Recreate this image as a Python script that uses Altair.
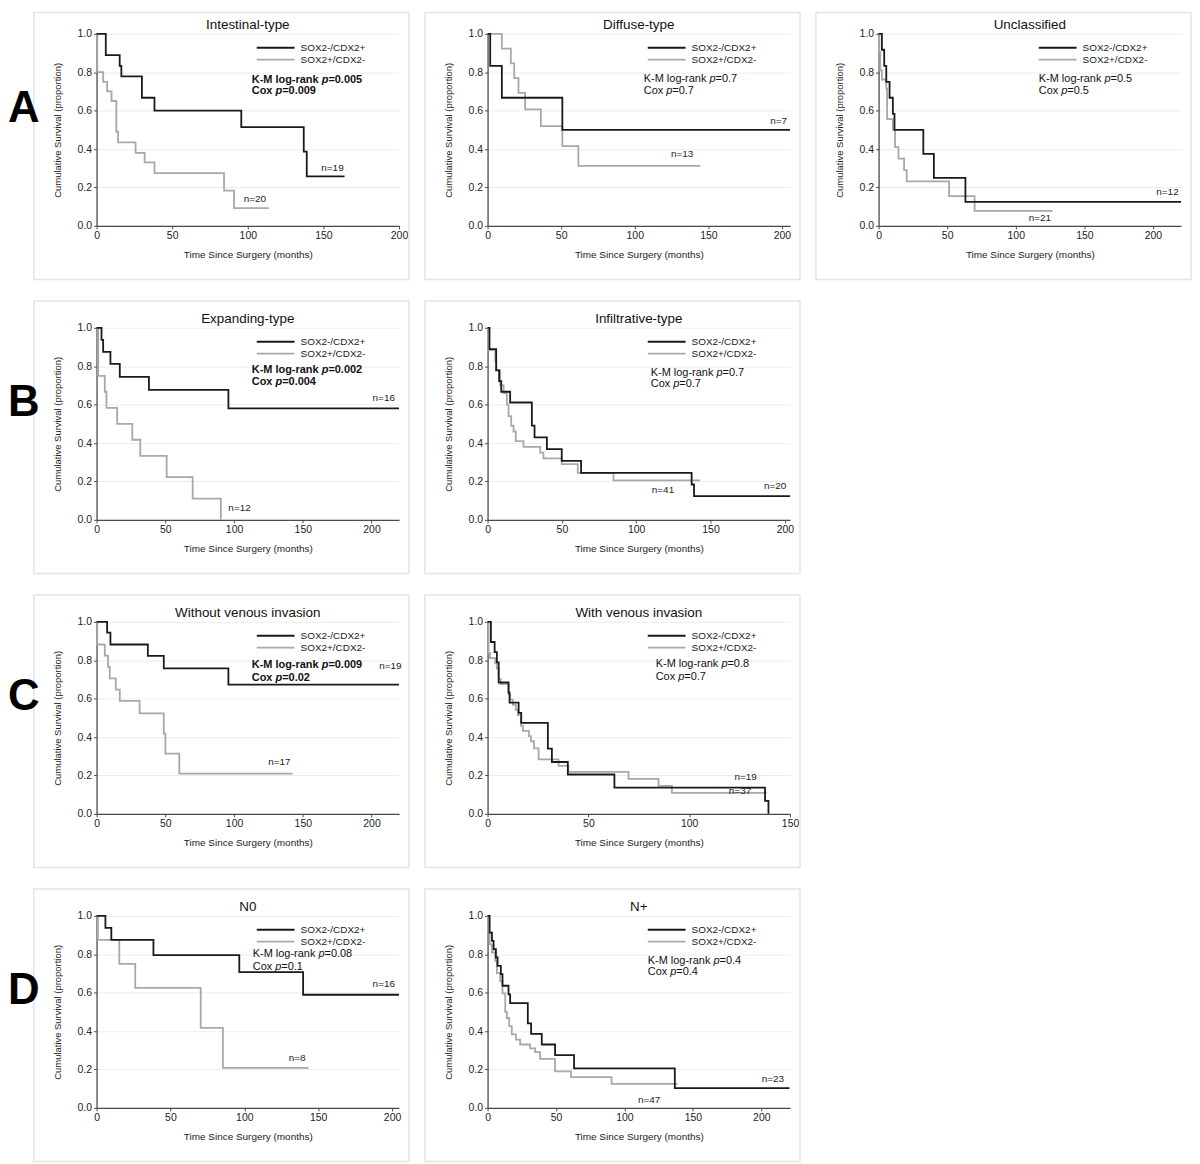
import altair as alt
import pandas as pd

# ---------------- data ----------------
# black = SOX2-/CDX2+, gray = SOX2+/CDX2-
INT_POS_T = [0, 6.1, 15.3, 16.4, 30.0, 38.3, 95.7, 137.0, 139.0, 164.0]
INT_POS_S = [1.0, 0.889, 0.833, 0.778, 0.667, 0.600, 0.514, 0.386, 0.257, 0.257]
INT_NEG_T = [0, 0.5, 4.4, 7.0, 9.9, 13.1, 14.2, 25.8, 31.8, 38.3, 84.3, 90.9, 113.9]
INT_NEG_S = [1.0, 0.80, 0.75, 0.70, 0.65, 0.49, 0.435, 0.38, 0.33, 0.275, 0.183, 0.092, 0.092]

DIF_POS_T = [0, 1.8, 9.7, 50.8, 205.5]
DIF_POS_S = [1.0, 0.833, 0.667, 0.50, 0.50]
DIF_NEG_T = [0, 9.7, 15.8, 18.1, 21.0, 25.5, 36.2, 50.8, 61.7, 144.6]
DIF_NEG_S = [1.0, 0.923, 0.846, 0.769, 0.692, 0.606, 0.519, 0.415, 0.312, 0.312]

UNC_POS_T = [0, 2.4, 4.1, 5.6, 8.0, 10.4, 11.6, 32.6, 40.3, 63.3, 220.5]
UNC_POS_S = [1.0, 0.917, 0.833, 0.75, 0.667, 0.583, 0.50, 0.375, 0.25, 0.125, 0.125]
UNC_NEG_T = [0, 0.5, 1.2, 2.4, 5.6, 6.2, 10.4, 12.0, 14.5, 18.6, 20.5, 51.4, 70.0, 126.8]
UNC_NEG_S = [1.0, 0.905, 0.81, 0.762, 0.714, 0.556, 0.50, 0.41, 0.35, 0.29, 0.232, 0.155, 0.078, 0.078]

EXP_POS_T = [0, 3.6, 4.8, 10.1, 16.9, 38.1, 95.9, 220.0]
EXP_POS_S = [1.0, 0.9375, 0.875, 0.8125, 0.745, 0.677, 0.581, 0.581]
EXP_NEG_T = [0, 1.2, 6.0, 7.2, 15.0, 26.0, 31.8, 51.0, 69.9, 90.4]
EXP_NEG_S = [1.0, 0.75, 0.667, 0.583, 0.50, 0.417, 0.333, 0.222, 0.111, 0.0]

INF_POS_T = [0, 1.3, 5.8, 7.8, 9.2, 15.2, 29.8, 31.6, 39.9, 49.9, 62.9, 137.3, 138.9, 203.5]
INF_POS_S = [1.0, 0.889, 0.778, 0.722, 0.667, 0.611, 0.491, 0.429, 0.368, 0.307, 0.245, 0.184, 0.123, 0.123]
INF_NEG_T = [0, 0.5, 5.2, 5.8, 8.5, 10.8, 13.0, 14.1, 15.9, 17.5, 19.0, 24.2, 35.4, 37.6, 49.9, 60.7, 84.7, 142.9]
INF_NEG_S = [1.0, 0.884, 0.827, 0.78, 0.70, 0.66, 0.60, 0.54, 0.49, 0.46, 0.41, 0.38, 0.35, 0.32, 0.29, 0.245, 0.205, 0.205]

WOV_POS_T = [0, 7.7, 10.1, 37.3, 48.9, 95.9, 220.0]
WOV_POS_S = [1.0, 0.944, 0.882, 0.823, 0.758, 0.673, 0.673]
WOV_NEG_T = [0, 0.5, 6.0, 8.4, 9.6, 14.0, 16.9, 31.3, 48.9, 50.1, 60.2, 142.7]
WOV_NEG_S = [1.0, 0.882, 0.824, 0.765, 0.706, 0.647, 0.588, 0.523, 0.418, 0.314, 0.209, 0.209]

WV_POS_T = [0, 1.65, 3.5, 4.6, 5.5, 10.4, 10.9, 15.4, 16.7, 29.9, 31.9, 39.8, 62.9, 137.6, 139.3]
WV_POS_S = [1.0, 0.895, 0.842, 0.789, 0.684, 0.632, 0.579, 0.526, 0.474, 0.34, 0.27, 0.205, 0.137, 0.068, 0.0]
WV_NEG_T = [0, 0.5, 1.2, 3.8, 4.6, 5.5, 6.5, 10.4, 11.2, 12.5, 14.0, 15.0, 16.5, 17.5, 20.5, 21.5,
            23.0, 25.3, 35.2, 40.1, 69.9, 84.8, 91.4, 138.4]
WV_NEG_S = [1.0, 0.838, 0.811, 0.784, 0.757, 0.703, 0.676, 0.622, 0.595, 0.568, 0.541, 0.514, 0.459, 0.432,
            0.405, 0.378, 0.341, 0.284, 0.25, 0.219, 0.182, 0.146, 0.109, 0.109]

N0_POS_T = [0, 6.0, 10.0, 38.5, 96.6, 139.8, 204.7]
N0_POS_S = [1.0, 0.9375, 0.875, 0.795, 0.707, 0.589, 0.589]
N0_NEG_T = [0, 0.9, 15.4, 26.2, 70.5, 85.5, 143.6]
N0_NEG_S = [1.0, 0.875, 0.75, 0.625, 0.417, 0.208, 0.208]

NP_POS_T = [0, 1.5, 3.2, 4.4, 6.1, 7.3, 9.7, 10.9, 15.3, 16.5, 29.4, 31.8, 39.6, 49.3, 63.2, 136.8, 220.6]
NP_POS_S = [1.0, 0.913, 0.870, 0.826, 0.783, 0.739, 0.696, 0.636, 0.591, 0.545, 0.44, 0.385, 0.33, 0.275,
            0.206, 0.103, 0.103]
NP_NEG_T = [0, 0.3, 1.5, 3.2, 5.6, 6.8, 9.2, 10.9, 12.9, 14.1, 15.8, 17.7, 20.7, 23.8, 31.1, 34.8, 38.4,
            49.3, 61.0, 90.6, 138.8]
NP_NEG_S = [1.0, 0.915, 0.851, 0.809, 0.766, 0.702, 0.66, 0.596, 0.50, 0.468, 0.426, 0.383, 0.355, 0.33,
            0.31, 0.29, 0.255, 0.19, 0.16, 0.125, 0.125]

TITLES = ["Intestinal-type", "Diffuse-type", "Unclassified", "Expanding-type", "Infiltrative-type",
          "Without venous invasion", "With venous invasion", "N0", "N+"]
X_MAX = [200, 205.5, 220.5, 220, 203.5, 220, 150, 204.7, 221]
KM_P = ["0.005", "0.7", "0.5", "0.002", "0.7", "0.009", "0.8", "0.08", "0.4"]
COX_P = ["0.009", "0.7", "0.5", "0.004", "0.7", "0.02", "0.7", "0.1", "0.4"]
SIGNIFICANT = [True, False, False, True, False, True, False, False, False]
N_POS = ["n=19", "n=7", "n=12", "n=16", "n=20", "n=19", "n=19", "n=16", "n=23"]
N_NEG = ["n=20", "n=13", "n=21", "n=12", "n=41", "n=17", "n=37", "n=8", "n=47"]
ROW_LETTERS = ["A", "B", "C", "D"]
LEGEND_LABELS = ["SOX2-/CDX2+", "SOX2+/CDX2-"]

# annotation placement (data coordinates for the n= labels, pixel offsets for the stats block)
N_POS_AT = [(156, 0.303), (197.7, 0.547), (210.6, 0.178), (208.9, 0.637), (193.5, 0.178),
            (213.7, 0.768), (128, 0.194), (194.4, 0.645), (208.5, 0.15)]
N_NEG_AT = [(104.7, 0.14), (132.2, 0.374), (117.6, 0.04), (104, 0.06), (118, 0.157),
            (133, 0.27), (125.2, 0.12), (135.8, 0.26), (118, 0.04)]
STATS_AT = [(156, 46, 57), (157, 45, 57), (161, 45, 57), (156, 42, 54), (164, 45, 56),
            (156, 43, 56), (169, 42, 55), (157, 38, 51), (161, 45, 56)]

CURVES = [
    (INT_POS_T, INT_POS_S, INT_NEG_T, INT_NEG_S),
    (DIF_POS_T, DIF_POS_S, DIF_NEG_T, DIF_NEG_S),
    (UNC_POS_T, UNC_POS_S, UNC_NEG_T, UNC_NEG_S),
    (EXP_POS_T, EXP_POS_S, EXP_NEG_T, EXP_NEG_S),
    (INF_POS_T, INF_POS_S, INF_NEG_T, INF_NEG_S),
    (WOV_POS_T, WOV_POS_S, WOV_NEG_T, WOV_NEG_S),
    (WV_POS_T, WV_POS_S, WV_NEG_T, WV_NEG_S),
    (N0_POS_T, N0_POS_S, N0_NEG_T, N0_NEG_S),
    (NP_POS_T, NP_POS_S, NP_NEG_T, NP_NEG_S),
]

# ---------------- styling ----------------
FONT = "Liberation Sans"
W, H = 304, 193
BLACK = "#1a1a1a"
GRAY = "#a8a8a8"
TXT = "#222222"
AXC = "#4a4a4a"

REG_W = {'K': .667, '-': .333, 'M': .833, ' ': .278, 'l': .222, 'o': .556, 'g': .556, 'r': .333,
         'a': .556, 'n': .556, 'k': .5, 'C': .722, 'x': .5, 'p': .556}
BOLD_W = {'K': .722, '-': .333, 'M': .833, ' ': .278, 'l': .278, 'o': .611, 'g': .611, 'r': .389,
          'a': .556, 'n': .611, 'k': .556, 'C': .722, 'x': .556, 'p': .611}


def text_w(s, size, bold):
    tab = BOLD_W if bold else REG_W
    return sum(tab.get(c, .556) for c in s) * size


def one():
    return pd.DataFrame({"k": [0]})


def ptext(text, x, y, size=10, weight="normal", style="normal", align="left",
          baseline="middle", color=TXT):
    return alt.Chart(one()).mark_text(
        text=text, fontSize=size, fontWeight=weight, fontStyle=style, align=align,
        baseline=baseline, color=color
    ).encode(x=alt.value(x), y=alt.value(y))


def panel(i, letter=None, box_top=-27.0):
    pos_t, pos_s, neg_t, neg_s = CURVES[i]
    xmax = X_MAX[i]
    ticks = [0, 50, 100, 150] if xmax <= 150 else [0, 50, 100, 150, 200]
    xs = alt.Scale(domain=[0, xmax], nice=False, zero=True)
    ys = alt.Scale(domain=[0, 1], nice=False)
    xax = alt.Axis(values=ticks, format="d", title="Time Since Surgery (months)", grid=False,
                   tickSize=3, labelPadding=2, labelFlush=False, domainColor=AXC, domainWidth=1.3,
                   tickColor=AXC, labelColor=TXT, labelFontSize=10.5, titleFontSize=10,
                   titleFontWeight="normal", titleColor=TXT, titleX=W / 2, titleY=29,
                   titleBaseline="middle", titleAlign="center")
    yax = alt.Axis(values=[0, 0.2, 0.4, 0.6, 0.8, 1.0], format=".1f",
                   title="Cumulative Survival (proportion)", grid=True, gridColor="#ececec",
                   tickSize=3, labelPadding=2, labelFlush=False, domainColor=AXC, domainWidth=1.3,
                   tickColor=AXC, labelColor=TXT, labelFontSize=10.5, titleFontSize=9.5,
                   titleFontWeight="normal", titleColor=TXT, titleX=-39, titleY=H / 2,
                   titleAngle=270, titleBaseline="middle", titleAlign="center")

    layers = []
    layers.append(
        alt.Chart(one()).mark_rect(fillOpacity=0, stroke="#e4e4e4", strokeWidth=1.5).encode(
            x=alt.value(-63), x2=alt.value(W + 10), y=alt.value(box_top), y2=alt.value(H + 54)))
    neg = pd.DataFrame({"t": neg_t, "s": neg_s})
    pos = pd.DataFrame({"t": pos_t, "s": pos_s})
    layers.append(alt.Chart(neg).mark_line(interpolate="step-after", color=GRAY, strokeWidth=1.8).encode(
        x=alt.X("t:Q", scale=xs, axis=xax), y=alt.Y("s:Q", scale=ys, axis=yax)))
    layers.append(alt.Chart(pos).mark_line(interpolate="step-after", color=BLACK, strokeWidth=1.8).encode(
        x=alt.X("t:Q", scale=xs, axis=xax), y=alt.Y("s:Q", scale=ys, axis=yax)))
    nl = pd.DataFrame({"t": [N_POS_AT[i][0], N_NEG_AT[i][0]], "s": [N_POS_AT[i][1], N_NEG_AT[i][1]],
                       "lab": [N_POS[i], N_NEG[i]]})
    layers.append(alt.Chart(nl).mark_text(fontSize=10, color=TXT).encode(
        x=alt.X("t:Q", scale=xs, axis=xax), y=alt.Y("s:Q", scale=ys, axis=yax), text="lab:N"))

    # panel title
    layers.append(ptext(TITLES[i], W / 2, -4.5, size=13.5, align="center", baseline="alphabetic",
                        color="#111111"))
    # legend
    for k, (col, lab) in enumerate(zip([BLACK, GRAY], LEGEND_LABELS)):
        yy = 14 + 12 * k
        layers.append(alt.Chart(one()).mark_rule(color=col, strokeWidth=1.8).encode(
            x=alt.value(161), x2=alt.value(199), y=alt.value(yy)))
        layers.append(ptext(lab, 205, yy, size=10))
    # stats with italic p
    bold = SIGNIFICANT[i]
    wt = "bold" if bold else "normal"
    sx, y1, y2 = STATS_AT[i]
    for prefix, val, yy in [("K-M log-rank ", KM_P[i], y1), ("Cox ", COX_P[i], y2)]:
        w1 = text_w(prefix, 11, bold)
        wp = text_w("p", 11, bold)
        layers.append(ptext(prefix, sx, yy, size=11, weight=wt, color="#111111"))
        layers.append(ptext("p", sx + w1, yy, size=11, weight=wt, style="italic", color="#111111"))
        layers.append(ptext("=" + val, sx + w1 + wp, yy, size=11, weight=wt, color="#111111"))
    if letter:
        layers.append(ptext(letter, -89, 76, size=44, weight="bold", color="#000000"))
    return alt.layer(*layers).properties(width=W, height=H)


rowA = alt.hconcat(panel(0, "A", box_top=-21.5), panel(1, box_top=-21.5), panel(2, box_top=-21.5), spacing=14)
rowB = alt.hconcat(panel(3, "B"), panel(4), spacing=14)
rowC = alt.hconcat(panel(5, "C"), panel(6), spacing=14)
rowD = alt.hconcat(panel(7, "D"), panel(8), spacing=14)

chart = alt.vconcat(rowA, rowB, rowC, rowD, spacing=19.5).properties(
    padding={"left": 0, "top": 0, "right": 0, "bottom": 0}
).configure(font=FONT, background="white").configure_view(stroke=None)

chart.save("out.html", embed_options={"renderer": "svg", "actions": False})
